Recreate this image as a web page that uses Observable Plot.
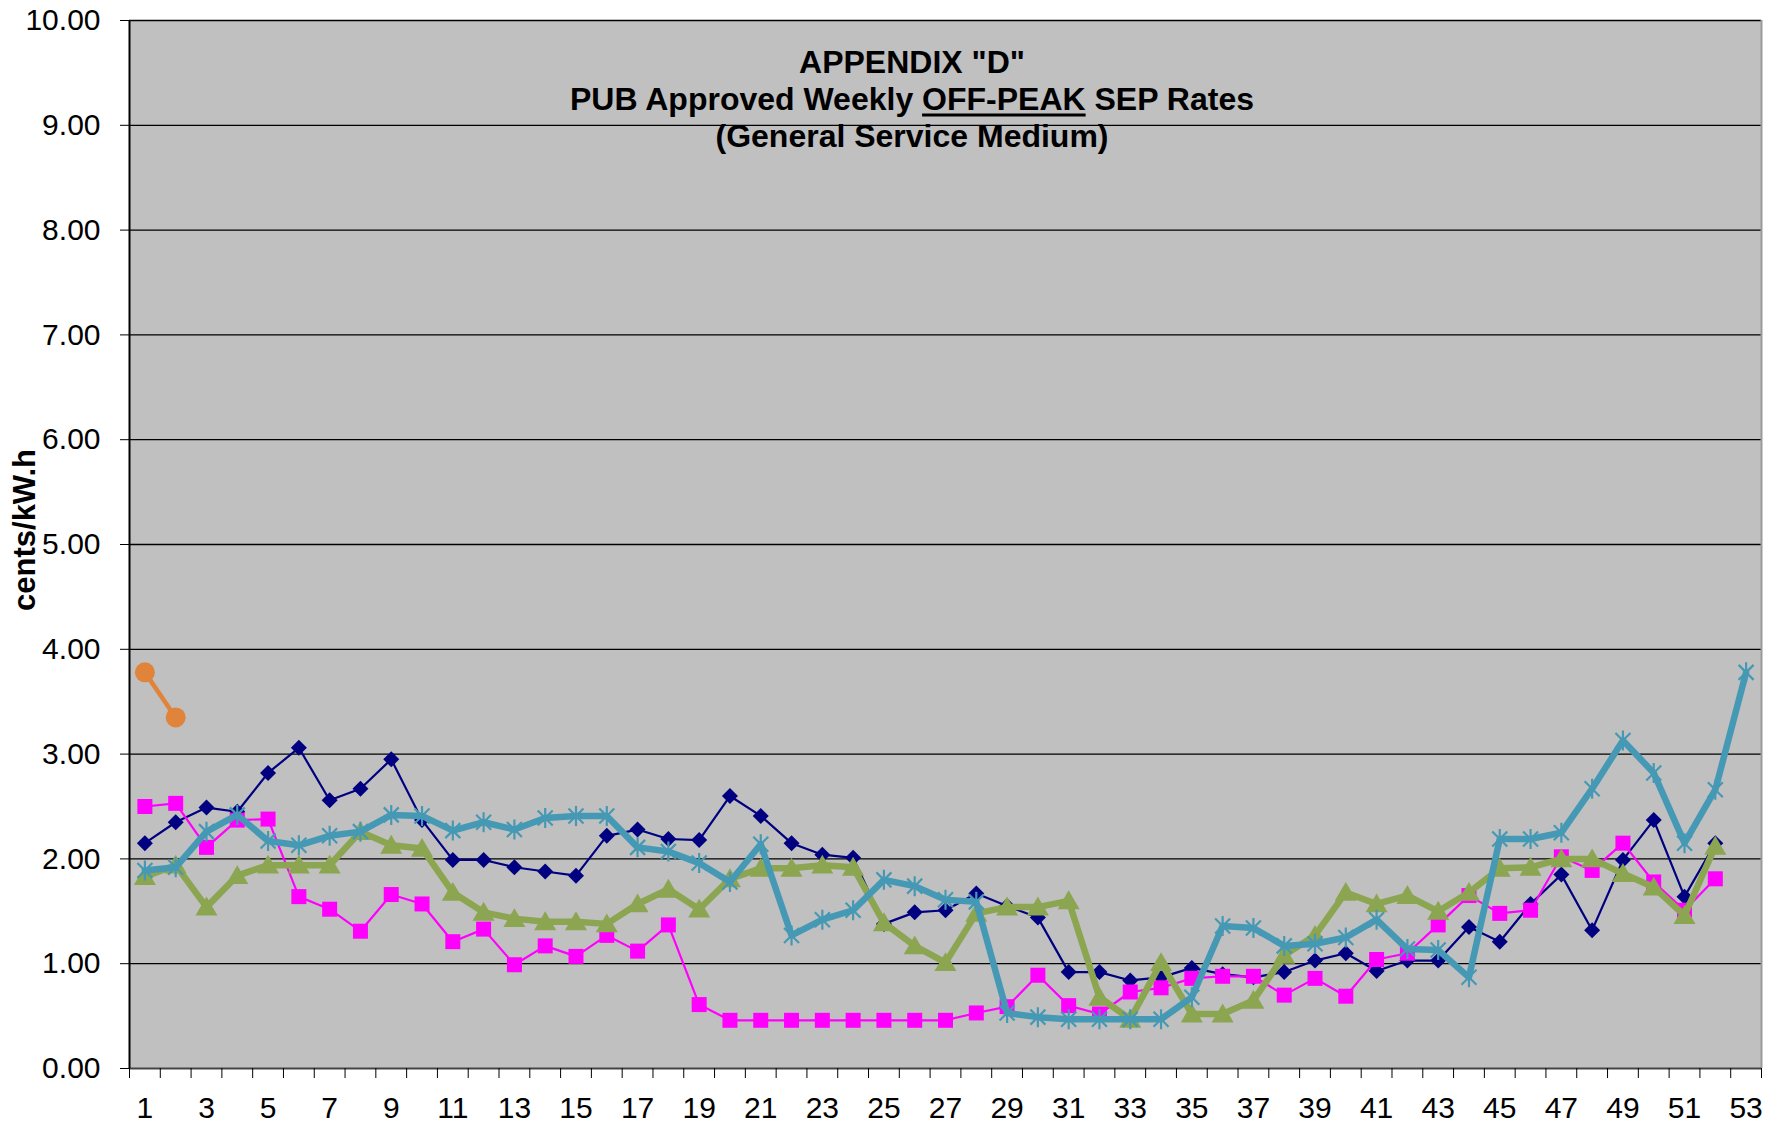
<!DOCTYPE html>
<html><head><meta charset="utf-8">
<script src="https://cdn.jsdelivr.net/npm/d3@7"></script>
<script src="https://cdn.jsdelivr.net/npm/@observablehq/plot@0.6"></script>
<style>body{margin:0;background:#fff;} #chart{position:relative;width:1773px;height:1126px;}</style>
</head><body><div id="chart"></div>
<script>
// ---- data ----
const weeks = [1,2,3,4,5,6,7,8,9,10,11,12,13,14,15,16,17,18,19,20,21,22,23,24,25,26,27,28,29,30,
  31,32,33,34,35,36,37,38,39,40,41,42,43,44,45,46,47,48,49,50,51,52,53];
const xLabels = [1,3,5,7,9,11,13,15,17,19,21,23,25,27,29,31,33,35,37,39,41,43,45,47,49,51,53];
const yTicks = [0,1,2,3,4,5,6,7,8,9,10];
const navyValues = [2.15,2.35,2.49,2.45,2.82,3.06,2.56,2.67,2.95,2.37, 1.99,1.99,1.92,1.88,1.84,2.22,2.28,2.19,2.18,2.60,
  2.41,2.15,2.04,2.01,1.38,1.49,1.51,1.67,1.55,1.44, 0.92,0.92,0.84,0.87,0.96,0.90,0.87,0.92,1.03,1.10,
  0.93,1.03,1.03,1.35,1.21,1.57,1.85,1.32,1.99,2.37, 1.64,2.15,null];
const magentaValues = [2.50,2.53,2.11,2.37,2.38,1.64,1.52,1.31,1.66,1.57, 1.21,1.33,0.99,1.17,1.07,1.27,1.12,1.37,0.61,0.46,
  0.46,0.46,0.46,0.46,0.46,0.46,0.46,0.53,0.59,0.89, 0.60,0.52,0.73,0.77,0.86,0.88,0.88,0.70,0.86,0.69,
  1.04,1.10,1.37,1.65,1.48,1.51,2.02,1.89,2.15,1.78, 1.51,1.81,null];
const oliveValues = [1.83,1.94,1.54,1.84,1.94,1.94,1.94,2.26,2.13,2.10, 1.68,1.49,1.43,1.40,1.40,1.38,1.57,1.71,1.52,1.81,
  1.91,1.91,1.94,1.92,1.39,1.17,1.01,1.48,1.54,1.54, 1.60,0.68,0.47,1.01,0.52,0.52,0.65,1.08,1.27,1.68,
  1.57,1.65,1.50,1.68,1.91,1.92,2.00,2.00,1.86,1.73, 1.46,2.12,null];
const tealValues = [1.89,1.92,2.26,2.42,2.17,2.13,2.22,2.26,2.42,2.41, 2.27,2.35,2.28,2.39,2.41,2.41,2.11,2.07,1.96,1.78,
  2.14,1.27,1.42,1.51,1.80,1.74,1.61,1.59,0.53,0.49, 0.47,0.47,0.47,0.47,0.68,1.36,1.34,1.17,1.19,1.25,
  1.42,1.14,1.13,0.87,2.19,2.19,2.25,2.67,3.13,2.82, 2.15,2.66,3.78];
const orangeValues = [3.78,3.35];

const titleLines = ['APPENDIX "D"', ['PUB Approved Weekly ', 'OFF-PEAK', ' SEP Rates'], '(General Service Medium)'];
const yLabel = "cents/kW.h";

// ---- symbols ----
function sym(fn){ return {draw(ctx,size){ fn(ctx, Math.sqrt(size/Math.PI)); }}; }
const diamond = sym((c,r)=>{c.moveTo(0,-r);c.lineTo(r,0);c.lineTo(0,r);c.lineTo(-r,0);c.closePath();});
const square = sym((c,r)=>{c.rect(-r,-r,2*r,2*r);});
const triangle = sym((c,r)=>{c.moveTo(0,-r);c.lineTo(r*1.05,r*0.8);c.lineTo(-r*1.05,r*0.8);c.closePath();});
const star = sym((c,r)=>{c.moveTo(0,-r);c.lineTo(0,r);const a=r*0.75;c.moveTo(-a,-a);c.lineTo(a,a);c.moveTo(a,-a);c.lineTo(-a,a);});

const series = [
  {values:navyValues, color:"#000080", width:2.2, symbol:diamond, r:8, fill:true},
  {values:magentaValues, color:"#FF00FF", width:2.2, symbol:square, r:7.5, fill:true},
  {values:oliveValues, color:"#8CA550", width:6.5, symbol:triangle, r:10.5, fill:true},
  {values:tealValues, color:"#4599B4", width:6.5, symbol:star, r:10, fill:false},
  {values:orangeValues, color:"#E0843C", width:4.5, symbol:"circle", r:10, fill:true}
];

const marks = [
  Plot.frame({fill:"#C0C0C0", stroke:null}),
  Plot.ruleY(yTicks.filter(d=>d>0), {stroke:"#000", strokeWidth:1.3}),
  Plot.ruleX([53.5], {stroke:"#9a9a9a", strokeWidth:2}),
  Plot.ruleY([0], {stroke:"#444", strokeWidth:2}),
  Plot.ruleX([0.5], {stroke:"#000", strokeWidth:2}),
  Plot.axisY({ticks:yTicks, tickFormat:d3.format(".2f"), tickSize:9, tickPadding:20, fontSize:30, label:null}),
  Plot.axisX({ticks:[0.5].concat(weeks.map(w=>w+0.5)), tickFormat:()=> "", tickSize:10, label:null}),
  Plot.axisX({ticks:xLabels, tickSize:0, tickPadding:28, fontSize:30, label:null})
];
for (const s of series) {
  const rows = weeks.map((w,i)=>({week:w, value: s.values[i] == null ? null : s.values[i]})).filter((d,i)=> i < s.values.length);
  marks.push(Plot.line(rows, {x:"week", y:"value", stroke:s.color, strokeWidth:s.width, strokeLinejoin:"round"}));
  marks.push(Plot.dot(rows, {x:"week", y:"value", symbol:()=>s.symbol, r:s.r,
    fill: s.fill ? s.color : "none", stroke: s.fill ? "none" : s.color, strokeWidth: s.fill ? 0 : 2.2}));
}

const chart = Plot.plot({
  width:1773, height:1126,
  marginLeft:129, marginRight:12, marginTop:20, marginBottom:58,
  style:{fontFamily:"'Liberation Sans', Arial, sans-serif", fontSize:"30px", color:"#000", background:"#fff"},
  x:{type:"linear", domain:[0.5,53.5], nice:false},
  y:{domain:[0,10], nice:false},
  marks
});
document.getElementById("chart").appendChild(chart);

// ---- title and y label ----
const svg = d3.select(chart);
const tg = svg.append("g").attr("font-family","'Liberation Sans', Arial, sans-serif")
  .attr("font-weight","bold").attr("font-size",32).attr("text-anchor","middle").attr("fill","#000");
const cx = 912, baselines = [73,110,147];
tg.append("text").attr("x",cx).attr("y",baselines[0]).text(titleLines[0]);
const t2 = tg.append("text").attr("x",cx).attr("y",baselines[1]);
const parts = titleLines[1].map(p=>t2.append("tspan").text(p));
tg.append("text").attr("x",cx).attr("y",baselines[2]).text(titleLines[2]);
const u = parts[1].node();
const ux = u.getStartPositionOfChar(0).x, uw = u.getComputedTextLength();
tg.append("line").attr("x1",ux).attr("x2",ux+uw).attr("y1",baselines[1]+5).attr("y2",baselines[1]+5)
  .attr("stroke","#000").attr("stroke-width",3);
svg.append("text").attr("transform","translate(35,530) rotate(-90)")
  .attr("font-family","'Liberation Sans', Arial, sans-serif").attr("font-weight","bold")
  .attr("font-size",31).attr("text-anchor","middle").attr("fill","#000").text(yLabel);
</script></body></html>
